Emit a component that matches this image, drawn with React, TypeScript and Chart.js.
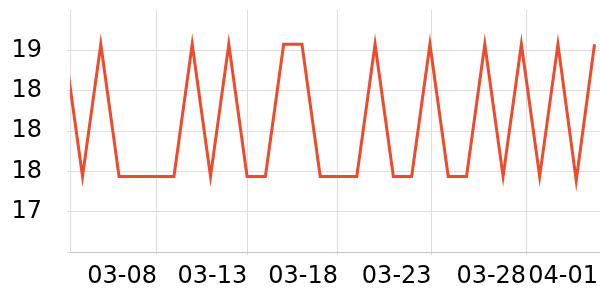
import React, { useEffect, useRef } from "react";
import { Chart, registerables } from "chart.js";

Chart.register(...registerables);

// Day index 0 = 03-03 ... 29 = 04-01
const dates = [
  "03-03", "03-04", "03-05", "03-06", "03-07", "03-08", "03-09", "03-10", "03-11", "03-12",
  "03-13", "03-14", "03-15", "03-16", "03-17", "03-18", "03-19", "03-20", "03-21", "03-22",
  "03-23", "03-24", "03-25", "03-26", "03-27", "03-28", "03-29", "03-30", "03-31", "04-01",
];
const values = [
  18.86, 17.55, 18.86, 17.55, 17.55, 17.55, 17.55, 18.86, 17.55, 18.86,
  17.55, 17.55, 18.86, 18.86, 17.55, 17.55, 17.55, 18.86, 17.55, 17.55,
  18.86, 17.55, 17.55, 18.86, 17.55, 18.86, 17.55, 18.86, 17.51, 18.86,
];

const xMin = 0.316;
const xMax = 29.3;
const xTickVals = [5.07, 10.01, 14.97, 20.09, 25.26, 29.19];
const xTickLabels = ["03-08", "03-13", "03-18", "03-23", "03-28", "04-01"];

const yMin = 16.8;
const yMax = 19.2;
const yTickVals = [16.8, 17.2, 17.6, 18.0, 18.4, 18.8, 19.2];
const yTickLabels = ["", "17", "18", "18", "18", "19", ""];

const LINE = "#ee4a2c";
const GRID = "#dddddd";
const FONT = { family: "DejaVu Sans", size: 24 };

export default function App() {
  const ref = useRef<HTMLCanvasElement | null>(null);

  useEffect(() => {
    if (!ref.current) return;
    const chart = new Chart(ref.current, {
      type: "line",
      data: {
        datasets: [
          {
            label: "temp",
            data: values.map((v, i) => ({ x: i, y: v })),
            borderColor: LINE,
            backgroundColor: LINE,
            borderWidth: 3,
            pointRadius: 0,
            tension: 0,
            clip: 0,
          },
        ],
      },
      options: {
        responsive: false,
        animation: false,
        layout: { padding: { top: 10, right: 0, left: 0, bottom: 0 } },
        plugins: { legend: { display: false }, tooltip: { enabled: false } },
        scales: {
          x: {
            type: "linear",
            min: xMin,
            max: xMax,
            afterBuildTicks: (s: any) => {
              s.ticks = xTickVals.map((v) => ({ value: v }));
            },
            afterFit: (s: any) => {
              s.height = 48;
              s.paddingLeft = 0;
              s.paddingRight = 0;
            },
            ticks: {
              autoSkip: false,
              maxRotation: 0,
              minRotation: 0,
              align: "end",
              padding: 7,
              color: "#000",
              font: FONT,
              callback: (v: any) => {
                const i = xTickVals.findIndex((t) => Math.abs(t - v) < 1e-6);
                return i >= 0 ? xTickLabels[i] : "";
              },
            },
            grid: {
              color: (ctx: any) =>
                ctx.tick && Math.abs(ctx.tick.value - xTickVals[xTickVals.length - 1]) < 1e-6
                  ? "rgba(0,0,0,0)"
                  : GRID,
              tickLength: 3,
            },
            border: { color: "#c4c4c4" },
          },
          y: {
            type: "linear",
            min: yMin,
            max: yMax,
            afterBuildTicks: (s: any) => {
              s.ticks = yTickVals.map((v) => ({ value: v }));
            },
            afterFit: (s: any) => {
              s.width = 70;
              s.paddingTop = 0;
              s.paddingBottom = 0;
            },
            ticks: {
              autoSkip: false,
              padding: 25,
              color: "#000",
              font: FONT,
              callback: (v: any) => {
                const i = yTickVals.findIndex((t) => Math.abs(t - v) < 1e-6);
                return i >= 0 ? yTickLabels[i] : "";
              },
            },
            grid: {
              color: (ctx: any) =>
                ctx.tick && Math.abs(ctx.tick.value - yMax) < 1e-6 ? "rgba(0,0,0,0)" : GRID,
              tickLength: 3,
            },
            border: { color: GRID },
          },
        },
      },
    });
    return () => chart.destroy();
  }, []);

  return (
    <div style={{ position: "absolute", left: 0, top: 0, width: 600, height: 300, background: "#fff" }}>
      <canvas ref={ref} width={600} height={300} style={{ display: "block", width: 600, height: 300 }} />
    </div>
  );
}
